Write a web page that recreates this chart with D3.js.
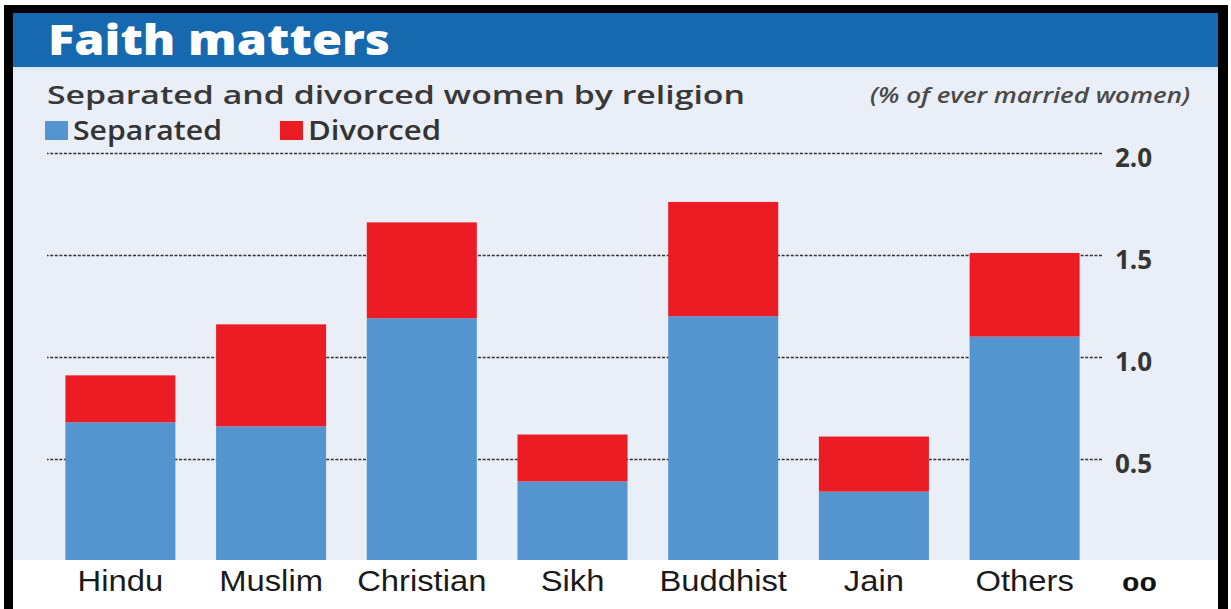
<!DOCTYPE html>
<html>
<head>
<meta charset="utf-8">
<script src="https://cdn.jsdelivr.net/npm/d3@7"></script>
<style>
  html, body { margin: 0; padding: 0; background: #ffffff; }
  svg { display: block; }
</style>
</head>
<body>
<svg id="chart" width="1231" height="609"></svg>
<script>
// Share of ever-married women who are separated or divorced, by religion (%)
const religions = ["Hindu", "Muslim", "Christian", "Sikh", "Buddhist", "Jain", "Others"];
const separated = [0.68, 0.66, 1.19, 0.39, 1.20, 0.34, 1.10];
const divorced  = [0.23, 0.50, 0.47, 0.23, 0.56, 0.27, 0.41];
const seriesNames = ["Separated", "Divorced"];
const yTicks = [0.5, 1.0, 1.5, 2.0];
const baseLabel = "00";

const colors = { Separated: "#5495d0", Divorced: "#ec1c24" };
const sans = "'Open Sans', 'Noto Sans', sans-serif";

const svg = d3.select("#chart");

// Outer black frame and panel
svg.append("rect").attr("x", 4).attr("y", 5).attr("width", 1224).attr("height", 640).attr("fill", "#000");
svg.append("rect").attr("x", 13).attr("y", 13).attr("width", 1205).attr("height", 640).attr("fill", "#ffffff");

// Plot background
svg.append("rect").attr("x", 13).attr("y", 67).attr("width", 1205).attr("height", 493).attr("fill", "#eaeef6");
svg.append("rect").attr("x", 13).attr("y", 67).attr("width", 1205).attr("height", 3).attr("fill", "#d6e8f3");

// Header band
svg.append("rect").attr("x", 13).attr("y", 13).attr("width", 1205).attr("height", 54).attr("fill", "#1669ae");
svg.append("text")
  .attr("x", 48).attr("y", 55)
  .attr("font-family", sans)
  .attr("font-weight", 800).attr("font-size", 42)
  .attr("fill", "#ffffff")
  .attr("textLength", 342).attr("lengthAdjust", "spacingAndGlyphs")
  .text("Faith matters");

// Subtitle and unit note
svg.append("text")
  .attr("x", 47).attr("y", 104)
  .attr("font-family", sans)
  .attr("font-weight", 600).attr("font-size", 26).attr("fill", "#383838")
  .attr("textLength", 698).attr("lengthAdjust", "spacingAndGlyphs")
  .text("Separated and divorced women by religion");
svg.append("text")
  .attr("x", 870).attr("y", 103)
  .attr("font-family", sans)
  .attr("font-style", "italic").attr("font-weight", 600).attr("font-size", 22).attr("fill", "#4a4a4a")
  .attr("textLength", 320).attr("lengthAdjust", "spacingAndGlyphs")
  .text("(% of ever married women)");

// Legend
const legendX = [45, 280];
const legendW = [149, 133];
const legend = svg.append("g");
seriesNames.forEach((name, i) => {
  legend.append("rect")
    .attr("x", legendX[i]).attr("y", 121).attr("width", 23).attr("height", 19)
    .attr("fill", colors[name]);
  legend.append("text")
    .attr("x", legendX[i] + 28).attr("y", 140)
    .attr("font-family", sans)
    .attr("font-weight", 600).attr("font-size", 27).attr("fill", "#333333")
    .attr("textLength", legendW[i]).attr("lengthAdjust", "spacingAndGlyphs")
    .text(name);
});

// Scales
const x = d3.scaleBand().domain(religions).range([47, 1098]).paddingInner(0.27).paddingOuter(0.122);
const y = d3.scaleLinear().domain([0, 2]).range([561, 153]);

// Dotted gridlines with the value axis on the right
const gridLeft = 47, gridRight = 1102;
const yAxis = d3.axisRight(y)
  .tickValues(yTicks)
  .tickFormat(d3.format(".1f"))
  .tickSize(-(gridRight - gridLeft))
  .tickPadding(13);
const axisG = svg.append("g").attr("transform", `translate(${gridRight},0)`).call(yAxis);
axisG.select(".domain").remove();
axisG.selectAll(".tick line")
  .attr("stroke", "#333333").attr("stroke-width", 1.7)
  .attr("stroke-dasharray", "3,1.6");
axisG.selectAll(".tick text")
  .attr("dy", "0.52em")
  .attr("font-family", sans)
  .attr("font-weight", 700).attr("font-size", 26)
  .attr("fill", "#353535");

// Stacked bars
const rows = religions.map((r, i) => ({ religion: r, Separated: separated[i], Divorced: divorced[i] }));
const stacked = d3.stack().keys(seriesNames)(rows);
svg.append("g").selectAll("g")
  .data(stacked)
  .join("g")
  .attr("fill", d => colors[d.key])
  .selectAll("rect")
  .data(d => d)
  .join("rect")
  .attr("x", d => x(d.data.religion))
  .attr("width", x.bandwidth())
  .attr("y", d => y(d[1]))
  .attr("height", d => y(d[0]) - y(d[1]));

// Category label strip
svg.append("rect").attr("x", 13).attr("y", 560).attr("width", 1205).attr("height", 60).attr("fill", "#ffffff");
svg.append("g").selectAll("text")
  .data(religions)
  .join("text")
  .attr("transform", d => `translate(${x(d) + x.bandwidth() / 2},591) scale(1.13,1)`)
  .attr("text-anchor", "middle")
  .attr("font-family", "'Liberation Sans', Arial, sans-serif")
  .attr("font-size", 29).attr("fill", "#1a1a1a")
  .text(d => d);
svg.append("text")
  .attr("x", gridRight + 20).attr("y", 591)
  .attr("font-family", "'Liberation Sans', Arial, sans-serif")
  .attr("font-weight", 700).attr("font-size", 21).attr("fill", "#111111")
  .attr("textLength", 35).attr("lengthAdjust", "spacingAndGlyphs")
  .text(baseLabel);
</script>
</body>
</html>
